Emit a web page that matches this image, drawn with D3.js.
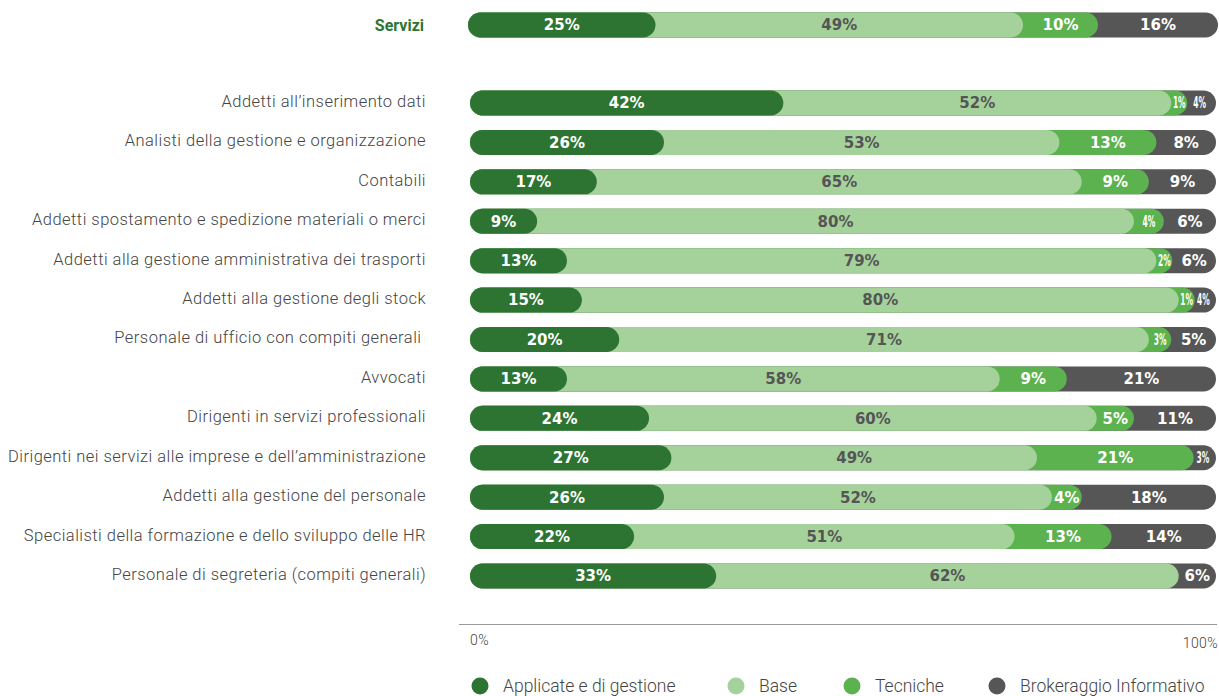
<!DOCTYPE html>
<html>
<head>
<meta charset="utf-8">
<script src="https://cdn.jsdelivr.net/npm/d3@7"></script>
<style>
  html, body { margin: 0; padding: 0; background: #fff; }
  svg { display: block; }
</style>
</head>
<body>
<div id="chart"></div>
<script>
// Competenze richieste per professione (settore Servizi), quote percentuali
const seriesNames = ["Applicate e di gestione", "Base", "Tecniche", "Brokeraggio Informativo"];
const seriesColors = ["#2d7433", "#a5d29b", "#5cb24f", "#565656"];
const labelColors = ["#ffffff", "#555555", "#ffffff", "#ffffff"];

const totalLabel = "Servizi";
const totalValues = [25, 49, 10, 16];

const categories = [
  "Addetti all\u2019inserimento dati",
  "Analisti della gestione e organizzazione",
  "Contabili",
  "Addetti spostamento e spedizione materiali o merci",
  "Addetti alla gestione amministrativa dei trasporti",
  "Addetti alla gestione degli stock",
  "Personale di ufficio con compiti generali ",
  "Avvocati",
  "Dirigenti in servizi professionali",
  "Dirigenti nei servizi alle imprese e dell\u2019amministrazione",
  "Addetti alla gestione del personale",
  "Specialisti della formazione e dello sviluppo delle HR",
  "Personale di segreteria (compiti generali)"
];
const applicate   = [42, 26, 17,  9, 13, 15, 20, 13, 24, 27, 26, 22, 33];
const base        = [52, 53, 65, 80, 79, 80, 71, 58, 60, 49, 52, 51, 62];
const tecniche    = [ 1, 13,  9,  4,  2,  1,  3,  9,  5, 21,  4, 13,  0];
const brokeraggio = [ 4,  8,  9,  6,  6,  4,  5, 21, 11,  3, 18, 14,  6];

const axisTicks = ["0%", "100%"];

const W = 1219, H = 696;
const svg = d3.select("#chart").append("svg").attr("width", W).attr("height", H);

const labelFont = "Roboto, 'DejaVu Sans', sans-serif";
const valueFont = "'DejaVu Sans', sans-serif";
const barH = 25;
const minSeg = 16;   // smallest visible width for a non-empty segment

const rows = categories.map((c, i) => ({
  name: c,
  values: [applicate[i], base[i], tecniche[i], brokeraggio[i]]
}));

const y = d3.scalePoint().domain(categories).range([103, 576]);

// Draws one stacked bar as overlapping pills: the rightmost segment first,
// each earlier segment on top so its rounded end overlaps the next one.
function drawBar(g, values, x0, x1, cy) {
  const x = d3.scaleLinear().domain([0, 100]).range([x0, x1]);
  const last = values.length - 1;
  const starts = [], ends = [], cumEnd = [];
  let acc = 0, prev = x0;
  values.forEach((v, i) => {
    acc += v;
    cumEnd.push(acc);
    starts.push(prev);
    let e = i === last ? x1 : x(acc);
    if (i !== last && v > 0) e = Math.min(Math.max(e, prev + minSeg), x1 - minSeg);
    if (v <= 0) e = prev;
    ends.push(e);
    prev = e;
  });

  for (let i = last; i >= 0; i--) {
    if (values[i] <= 0) continue;
    g.append("rect")
      .attr("x", x0).attr("y", cy - barH / 2)
      .attr("width", ends[i] - x0).attr("height", barH)
      .attr("rx", barH / 2).attr("ry", barH / 2)
      .attr("fill", seriesColors[i]);
  }
  values.forEach((v, i) => {
    if (v <= 0) return;
    const squeezed = v <= 4 && cumEnd[i] >= 93;
    // the last segment's label sits a little inside the rounded end
    const right = (i === last && squeezed) ? ends[i] - 4 : ends[i];
    const cx = (starts[i] + right) / 2;
    // small values crowded at the right end are drawn horizontally condensed
    g.append("text")
      .attr("transform", `translate(${cx},${cy}) scale(${squeezed ? 0.5 : 1},1)`)
      .attr("dy", "0.36em")
      .attr("text-anchor", "middle")
      .attr("font-family", valueFont)
      .attr("font-weight", "bold")
      .attr("font-size", 15)
      .attr("fill", labelColors[i])
      .text(v + "%");
  });
}

// Total row
const gTot = svg.append("g");
gTot.append("text")
  .attr("x", 424).attr("y", 25).attr("dy", "0.36em")
  .attr("text-anchor", "end")
  .attr("font-family", labelFont)
  .attr("font-weight", 700)
  .attr("font-size", 16)
  .attr("fill", "#2d7433")
  .text(totalLabel);
drawBar(gTot, totalValues, 468, 1218, 25);

// Category rows
rows.forEach(r => {
  const g = svg.append("g");
  g.append("text")
    .attr("x", 426).attr("y", y(r.name) - 2).attr("dy", "0.36em")
    .attr("text-anchor", "end")
    .attr("font-family", labelFont)
    .attr("font-weight", 300)
    .attr("font-size", 16.5)
    .attr("letter-spacing", "0.47px")
    .attr("fill", "#444")
    .attr("xml:space", "preserve")
    .text(r.name);
  drawBar(g, r.values, 470, 1216, y(r.name));
});

// Axis
svg.append("line")
  .attr("x1", 459).attr("x2", 1217)
  .attr("y1", 624.5).attr("y2", 624.5)
  .attr("stroke", "#9a9a9a").attr("stroke-width", 1);
svg.append("text")
  .attr("x", 470).attr("y", 645)
  .attr("font-family", labelFont).attr("font-weight", 300)
  .attr("font-size", 14).attr("letter-spacing", "0.4px").attr("fill", "#444")
  .text(axisTicks[0]);
svg.append("text")
  .attr("x", 1218).attr("y", 648)
  .attr("text-anchor", "end")
  .attr("font-family", labelFont).attr("font-weight", 300)
  .attr("font-size", 14).attr("letter-spacing", "0.4px").attr("fill", "#444")
  .text(axisTicks[1]);

// Legend
const legendX = [480, 736, 852, 997];
const lg = svg.append("g");
seriesNames.forEach((n, i) => {
  lg.append("circle")
    .attr("cx", legendX[i]).attr("cy", 686).attr("r", 8.5)
    .attr("fill", seriesColors[i]);
  lg.append("text")
    .attr("x", legendX[i] + 23).attr("y", 686).attr("dy", "0.36em")
    .attr("font-family", labelFont).attr("font-weight", 300)
    .attr("font-size", 17.5).attr("fill", "#444")
    .text(n);
});
</script>
</body>
</html>
